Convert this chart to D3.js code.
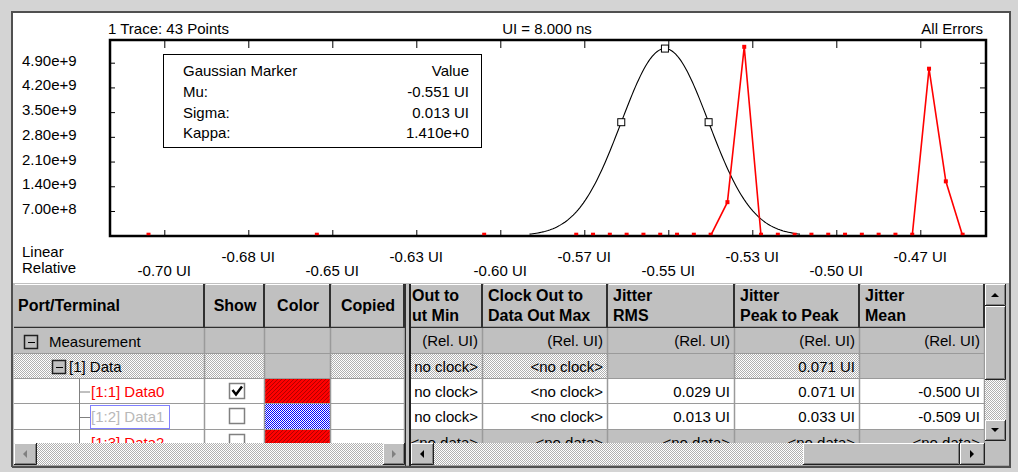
<!DOCTYPE html>
<html>
<head>
<meta charset="utf-8">
<script src="https://cdn.jsdelivr.net/npm/d3@7"></script>
<style>
body { margin: 0; background: #d4d4d4; }
svg { display: block; font-family: "Liberation Sans", Arial, sans-serif; font-size: 15px; }
</style>
</head>
<body>
<svg id="chart" width="1018" height="472"></svg>
<script>
// ---- chart data ----
var xTickValues = [-0.700, -0.675, -0.650, -0.625, -0.600, -0.575, -0.550, -0.525, -0.500, -0.475];
var xTickLabels = ["-0.70 UI", "-0.68 UI", "-0.65 UI", "-0.63 UI", "-0.60 UI", "-0.57 UI", "-0.55 UI", "-0.53 UI", "-0.50 UI", "-0.47 UI"];
var yTickValues = [7.0e8, 1.4e9, 2.1e9, 2.8e9, 3.5e9, 4.2e9, 4.9e9];
var yTickLabels = ["7.00e+8", "1.40e+9", "2.10e+9", "2.80e+9", "3.50e+9", "4.20e+9", "4.90e+9"];

var traceUI = [-0.7047, -0.6546, -0.6048,
  -0.5774, -0.5724, -0.5674, -0.5624, -0.5574, -0.5524, -0.5474, -0.5424,
  -0.5374, -0.5324, -0.5274, -0.5224, -0.5174, -0.5124, -0.5074, -0.5024,
  -0.4974, -0.4924, -0.4874, -0.4824, -0.4774, -0.4724, -0.4674, -0.4624];
var traceCount = [0, 0, 0,
  0, 0, 0, 0, 0, 0, 0, 0,
  0, 9.5e8, 5.35e9, 0, 0, 0, 0, 0,
  0, 0, 0, 0, 0, 4.73e9, 1.54e9, 0];

var gaussMu = -0.551, gaussSigma = 0.013, gaussPeak = 5.3e9;
var legendNames = ["Mu:", "Sigma:", "Kappa:"];
var legendValues = ["-0.551 UI", "0.013 UI", "1.410e+0"];
var headerTexts = ["1 Trace: 43 Points", "UI = 8.000 ns", "All Errors"];

// ---- table data ----
var leftCols = ["Port/Terminal", "Show", "Color", "Copied"];
// first right column is scrolled, only its tail shows
var rightCols = [["Out to", "ut Min"], ["Clock Out to", "Data Out Max"], ["Jitter", "RMS"], ["Jitter", "Peak to Peak"], ["Jitter", "Mean"]];
var rowNames = ["Measurement", "[1] Data", "[1:1] Data0", "[1:2] Data1", "[1:3] Data2"];
var rowShown = [null, null, true, false, false];
var rowValues = [
  ["(Rel. UI)", "(Rel. UI)", "(Rel. UI)", "(Rel. UI)", "(Rel. UI)"],
  ["no clock>", "<no clock>", "", "0.071 UI", ""],
  ["no clock>", "<no clock>", "0.029 UI", "0.071 UI", "-0.500 UI"],
  ["no clock>", "<no clock>", "0.013 UI", "0.033 UI", "-0.509 UI"],
  ["<no data>", "<no data>", "<no data>", "<no data>", "<no data>"]
];

var svg = d3.select("#chart");
var defs = svg.append("defs");

function pattern(id, w, h, bg, dots, color) {
  var p = defs.append("pattern").attr("id", id).attr("width", w).attr("height", h)
    .attr("patternUnits", "userSpaceOnUse");
  p.append("rect").attr("width", w).attr("height", h).attr("fill", bg);
  dots.forEach(function(d) {
    p.append("rect").attr("x", d[0]).attr("y", d[1]).attr("width", 1).attr("height", 1).attr("fill", color);
  });
}
pattern("dots", 2, 2, "#ffffff", [[0, 0], [1, 1]], "#b0b0b0");
pattern("blueDots", 2, 2, "#ffffff", [[0, 0], [1, 1]], "#0000ff");
pattern("redHatch", 4, 4, "#ff0000", [[0, 0], [2, 2], [1, 3], [3, 1]], "#b00000");

// ---- window frame ----
svg.append("rect").attr("width", 1018).attr("height", 472).attr("fill", "#d4d4d4");
svg.append("rect").attr("x", 12).attr("y", 12).attr("width", 997).attr("height", 272).attr("fill", "#fff");
svg.append("path").attr("d", "M12,467V12H1010V467H12").attr("fill", "none").attr("stroke", "#505050").attr("stroke-width", 2);

// ---- plot ----
var pLeft = 110, pRight = 986, pTop = 40, pBottom = 236;
var x = d3.scaleLinear().domain([-0.700, -0.475]).range([164.3, 920.3]);
var y = d3.scaleLinear().domain([0, 4.9e9]).range([235.7, 62.7]);

defs.append("clipPath").attr("id", "plotClip").append("rect")
  .attr("x", pLeft).attr("y", pTop).attr("width", pRight - pLeft).attr("height", pBottom - pTop);

svg.append("text").attr("x", 108).attr("y", 34).text(headerTexts[0]);
svg.append("text").attr("x", 547).attr("y", 34).attr("text-anchor", "middle").text(headerTexts[1]);
svg.append("text").attr("x", 983).attr("y", 34).attr("text-anchor", "end").text(headerTexts[2]);

var plot = svg.append("g").attr("clip-path", "url(#plotClip)");

// gaussian fit from Mu/Sigma
var gx = d3.range(gaussMu - 3.1 * gaussSigma, gaussMu + 3.1 * gaussSigma, 0.0005);
var gauss = function(u) { return gaussPeak * Math.exp(-0.5 * Math.pow((u - gaussMu) / gaussSigma, 2)); };
plot.append("path").datum(gx)
  .attr("d", d3.line().x(function(u) { return x(u); }).y(function(u) { return y(gauss(u)); }))
  .attr("fill", "none").attr("stroke", "#000").attr("stroke-width", 1.1);

// red trace
var trace = traceUI.map(function(u, i) { return [u, traceCount[i]]; });
plot.append("path").datum(trace.slice(3))
  .attr("d", d3.line().x(function(d) { return x(d[0]); }).y(function(d) { return y(d[1]); }))
  .attr("fill", "none").attr("stroke", "#ff0000").attr("stroke-width", 1.6);

// frame and inner ticks
var axes = svg.append("g");
axes.append("g").attr("transform", "translate(0," + pBottom + ")")
  .call(d3.axisBottom(x).tickValues(xTickValues).tickSize(-6).tickFormat(""));
axes.append("g").attr("transform", "translate(0," + pTop + ")")
  .call(d3.axisTop(x).tickValues(xTickValues).tickSize(-8).tickFormat(""));
axes.append("g").attr("transform", "translate(" + pLeft + ",0)")
  .call(d3.axisLeft(y).tickValues(yTickValues).tickSize(-5).tickFormat(""));
axes.append("g").attr("transform", "translate(" + pRight + ",0)")
  .call(d3.axisRight(y).tickValues(yTickValues).tickSize(-6).tickFormat(""));
axes.selectAll(".domain").remove();
axes.selectAll("line").attr("stroke", "#000");
svg.append("rect").attr("x", pLeft).attr("y", pTop).attr("width", pRight - pLeft).attr("height", pBottom - pTop)
  .attr("fill", "none").attr("stroke", "#000").attr("stroke-width", 2.5);

// trace markers
svg.append("g").selectAll("rect").data(trace).join("rect")
  .attr("x", function(d) { return x(d[0]) - 2; })
  .attr("y", function(d) { return y(d[1]) - (d[1] > 0 ? 2 : 3); })
  .attr("width", 4).attr("height", function(d) { return d[1] > 0 ? 4 : 2.5; })
  .attr("fill", "#ff0000");

// gaussian markers
svg.append("g").selectAll("rect").data([gaussMu - gaussSigma, gaussMu, gaussMu + gaussSigma]).join("rect")
  .attr("x", function(u) { return x(u) - 3.5; }).attr("y", function(u) { return y(gauss(u)) - 3.5; })
  .attr("width", 7).attr("height", 7).attr("fill", "#fff").attr("stroke", "#000");

// tick labels
svg.append("g").selectAll("text").data(xTickValues).join("text")
  .attr("x", function(d) { return x(d); })
  .attr("y", function(d, i) { return i % 2 ? 262 : 276; })
  .attr("text-anchor", "middle")
  .text(function(d, i) { return xTickLabels[i]; });
svg.append("g").selectAll("text").data(yTickValues).join("text")
  .attr("x", 22).attr("y", function(d) { return y(d) + 3; })
  .text(function(d, i) { return yTickLabels[i]; });
svg.append("text").attr("x", 22).attr("y", 257).text("Linear");
svg.append("text").attr("x", 22).attr("y", 273).text("Relative");

// legend box
var lg = svg.append("g");
lg.append("rect").attr("x", 163.5).attr("y", 54.5).attr("width", 318).attr("height", 93)
  .attr("fill", "#fff").attr("stroke", "#000");
lg.append("text").attr("x", 183).attr("y", 76).text("Gaussian Marker");
lg.append("text").attr("x", 469).attr("y", 76).attr("text-anchor", "end").text("Value");
legendNames.forEach(function(n, i) {
  lg.append("text").attr("x", 183).attr("y", 97 + i * 20.5).text(n);
  lg.append("text").attr("x", 469).attr("y", 97 + i * 20.5).attr("text-anchor", "end").text(legendValues[i]);
});

// ---- table ----
var rowEdges = [328, 354, 379, 404, 430, 456];
var headTop = 284, bodyBottom = 443;
var lEdges = [14, 205, 265, 331, 405];
var rEdges = [407, 483, 608, 735, 860, 985];
var leftFill = [
  ["#c0c0c0", "#c0c0c0", "#c0c0c0", "#c0c0c0"],
  ["url(#dots)", "url(#dots)", "#c0c0c0", "url(#dots)"],
  ["#fff", "#fff", "url(#redHatch)", "#fff"],
  ["#fff", "#fff", "url(#blueDots)", "#fff"],
  ["#fff", "#fff", "url(#redHatch)", "#fff"]
];
var rightFill = [
  ["#c0c0c0", "#c0c0c0", "#c0c0c0", "#c0c0c0", "#c0c0c0"],
  ["url(#dots)", "url(#dots)", "#c0c0c0", "url(#dots)", "#c0c0c0"],
  ["#fff", "#fff", "#fff", "#fff", "#fff"],
  ["#fff", "#fff", "#fff", "#fff", "#fff"],
  ["#c0c0c0", "#c0c0c0", "#c0c0c0", "#c0c0c0", "#c0c0c0"]
];

defs.append("clipPath").attr("id", "leftClip").append("rect")
  .attr("x", 14).attr("y", headTop).attr("width", 391).attr("height", bodyBottom - headTop);
defs.append("clipPath").attr("id", "rightClip").append("rect")
  .attr("x", 411).attr("y", headTop).attr("width", 574).attr("height", bodyBottom - headTop);

svg.append("rect").attr("x", 13).attr("y", headTop - 1).attr("width", 996).attr("height", 183).attr("fill", "#c0c0c0");

function headerCells(g, edges) {
  for (var c = 0; c < edges.length - 1; c++) {
    g.append("rect").attr("x", edges[c]).attr("y", headTop).attr("width", edges[c + 1] - edges[c]).attr("height", rowEdges[0] - headTop)
      .attr("fill", "#c0c0c0");
    g.append("line").attr("x1", edges[c] + 1).attr("x2", edges[c + 1] - 2).attr("y1", headTop + 0.5).attr("y2", headTop + 0.5).attr("stroke", "#fff");
    g.append("line").attr("x1", edges[c + 1] - 1).attr("x2", edges[c + 1] - 1).attr("y1", headTop).attr("y2", rowEdges[0]).attr("stroke", "#303030").attr("stroke-width", 2);
  }
  g.append("line").attr("x1", edges[0]).attr("x2", edges[edges.length - 1]).attr("y1", rowEdges[0] - 0.5).attr("y2", rowEdges[0] - 0.5)
    .attr("stroke", "#303030").attr("stroke-width", 1.5);
}

function bodyCells(g, edges, fills) {
  for (var r = 0; r < rowNames.length; r++) {
    for (var c = 0; c < edges.length - 1; c++) {
      g.append("rect").attr("x", edges[c]).attr("y", rowEdges[r]).attr("width", edges[c + 1] - edges[c]).attr("height", rowEdges[r + 1] - rowEdges[r])
        .attr("fill", fills[r][c]);
    }
    g.append("line").attr("x1", edges[0]).attr("x2", edges[edges.length - 1]).attr("y1", rowEdges[r + 1] - 0.5).attr("y2", rowEdges[r + 1] - 0.5)
      .attr("stroke", "#9a9a9a");
  }
  for (var c2 = 1; c2 < edges.length; c2++) {
    g.append("line").attr("x1", edges[c2] - 0.5).attr("x2", edges[c2] - 0.5).attr("y1", rowEdges[0]).attr("y2", bodyBottom)
      .attr("stroke", "#9a9a9a").attr("stroke-width", 1.5);
  }
}

// left pane
var lp = svg.append("g").attr("clip-path", "url(#leftClip)");
headerCells(lp, lEdges);
bodyCells(lp, lEdges, leftFill);
var bold = function(sel) { return sel.attr("font-weight", "bold").attr("font-size", "16px"); };
bold(lp.append("text").attr("x", 18).attr("y", 311).text(leftCols[0]));
for (var c = 1; c < leftCols.length; c++) {
  bold(lp.append("text").attr("x", (lEdges[c] + lEdges[c + 1]) / 2).attr("y", 311).attr("text-anchor", "middle").text(leftCols[c]));
}

function minusBox(g, bx, by) {
  g.append("rect").attr("x", bx + 0.5).attr("y", by + 0.5).attr("width", 13).attr("height", 13)
    .attr("fill", "#c0c0c0").attr("stroke", "#202020").attr("stroke-width", 1.5);
  g.append("line").attr("x1", bx + 4).attr("x2", bx + 11).attr("y1", by + 7.5).attr("y2", by + 7.5).attr("stroke", "#000");
}
minusBox(lp, 24, 335);
minusBox(lp, 52, 360);
lp.append("text").attr("x", 49).attr("y", 347).text(rowNames[0]);
lp.append("text").attr("x", 69).attr("y", 372).text(rowNames[1]);
lp.append("line").attr("x1", 79.5).attr("x2", 79.5).attr("y1", rowEdges[2]).attr("y2", bodyBottom).attr("stroke", "#808080");
var nameColor = ["#000", "#000", "#ff0000", "#b8b8b8", "#ff0000"];
for (var r = 2; r < rowNames.length; r++) {
  var cy = (rowEdges[r] + rowEdges[r + 1]) / 2;
  lp.append("line").attr("x1", 79.5).attr("x2", 90).attr("y1", cy + 0.5).attr("y2", cy + 0.5).attr("stroke", "#808080");
  lp.append("text").attr("x", 91).attr("y", rowEdges[r] + 18).attr("fill", nameColor[r]).text(rowNames[r]);
  lp.append("rect").attr("x", 229.5).attr("y", rowEdges[r] + 4.5).attr("width", 15).attr("height", 15)
    .attr("fill", "#fff").attr("stroke", "#808080").attr("stroke-width", 1.5);
  if (rowShown[r]) {
    lp.append("path").attr("d", "M232.5," + (rowEdges[r] + 11) + "l3.5,4.5l6,-8").attr("fill", "none")
      .attr("stroke", "#000").attr("stroke-width", 2.5);
  }
}
lp.append("rect").attr("x", 90.5).attr("y", 405.5).attr("width", 79).attr("height", 23)
  .attr("fill", "none").attr("stroke", "#0000ff").attr("stroke-dasharray", "1,1");

// splitter
svg.append("rect").attr("x", 405).attr("y", headTop - 1).attr("width", 6).attr("height", 183).attr("fill", "#c0c0c0");
svg.append("line").attr("x1", 405.5).attr("x2", 405.5).attr("y1", headTop).attr("y2", 466).attr("stroke", "#303030");
svg.append("line").attr("x1", 410).attr("x2", 410).attr("y1", headTop).attr("y2", 466).attr("stroke", "#202020").attr("stroke-width", 2);

// right pane
var rp = svg.append("g").attr("clip-path", "url(#rightClip)");
headerCells(rp, rEdges);
bodyCells(rp, rEdges, rightFill);
rightCols.forEach(function(lines, c) {
  lines.forEach(function(t, k) {
    bold(rp.append("text").attr("x", c === 0 ? 412 : rEdges[c] + 5).attr("y", 301 + k * 20).text(t));
  });
});
rowValues.forEach(function(vals, r) {
  vals.forEach(function(v, c) {
    rp.append("text").attr("x", rEdges[c + 1] - 5).attr("y", rowEdges[r] + 18).attr("text-anchor", "end").text(v);
  });
});

// ---- scrollbars ----
function button(bx, by, w, h) {
  var g = svg.append("g");
  g.append("rect").attr("x", bx).attr("y", by).attr("width", w).attr("height", h).attr("fill", "#c0c0c0");
  g.append("path").attr("d", "M" + (bx + 0.5) + "," + (by + h - 1) + "V" + (by + 0.5) + "H" + (bx + w - 1))
    .attr("fill", "none").attr("stroke", "#fff");
  g.append("path").attr("d", "M" + (bx + 1) + "," + (by + h - 1.5) + "H" + (bx + w - 1.5) + "V" + (by + 1))
    .attr("fill", "none").attr("stroke", "#808080");
  g.append("path").attr("d", "M" + bx + "," + (by + h - 0.5) + "H" + (bx + w - 0.5) + "V" + by)
    .attr("fill", "none").attr("stroke", "#202020");
  return g;
}
function arrow(cx, cy, dir, color) {
  var p = {
    left: [[2, -4], [2, 4], [-2, 0]], right: [[-2, -4], [-2, 4], [2, 0]],
    up: [[-4, 2], [4, 2], [0, -2]], down: [[-4, -2], [4, -2], [0, 2]]
  }[dir];
  svg.append("path").attr("d", "M" + p.map(function(q) { return (cx + q[0]) + "," + (cy + q[1]); }).join("L") + "Z")
    .attr("fill", color);
}
function track(tx, ty, w, h) {
  svg.append("rect").attr("x", tx).attr("y", ty).attr("width", w).attr("height", h).attr("fill", "url(#dots)");
}

// left pane horizontal
track(14, 443, 391, 22);
button(14, 443, 23, 22); arrow(25, 454, "left", "#808080");
button(383, 443, 22, 22); arrow(394, 454, "right", "#808080");
// right pane horizontal
track(411, 443, 574, 22);
button(411, 443, 23, 22); arrow(422, 454, "left", "#000");
button(803, 443, 157, 22);
button(960, 443, 25, 22); arrow(972, 454, "right", "#000");
// vertical
track(985, 284, 21, 157);
button(985, 284, 21, 22); arrow(995, 295, "up", "#000");
button(985, 306, 21, 74);
button(985, 420, 21, 21); arrow(995, 430, "down", "#000");
svg.append("rect").attr("x", 985).attr("y", 443).attr("width", 21).attr("height", 22).attr("fill", "#c0c0c0");
svg.append("line").attr("x1", 12).attr("x2", 1010).attr("y1", 466.5).attr("y2", 466.5).attr("stroke", "#505050").attr("stroke-width", 1.5);
</script>
</body>
</html>
